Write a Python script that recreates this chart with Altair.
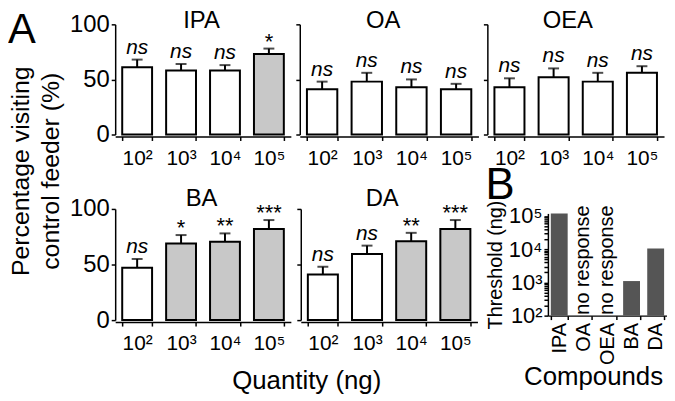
import altair as alt
import pandas as pd

FONT = "Liberation Sans"

# ---------------- data ----------------
quantities = ["10²", "10³", "10⁴", "10⁵"]

ipa_mean = [61, 58, 58, 73]
ipa_sem = [7, 6, 5, 5]
ipa_sig = ["ns", "ns", "ns", "*"]

oa_mean = [41, 48, 43, 41]
oa_sem = [7, 8, 7, 5]
oa_sig = ["ns", "ns", "ns", "ns"]

oea_mean = [43, 52, 48, 56]
oea_sem = [8, 8, 8, 6]
oea_sig = ["ns", "ns", "ns", "ns"]

ba_mean = [47, 69, 70.5, 82]
ba_sem = [8, 7.5, 7.5, 8]
ba_sig = ["ns", "*", "**", "***"]

da_mean = [41, 59.5, 71, 82]
da_sem = [7, 7.5, 7.5, 8]
da_sig = ["ns", "ns", "**", "***"]

compounds = ["IPA", "OA", "OEA", "BA", "DA"]
threshold = [120000, None, None, 1100, 10500]
no_response = ["", "no response", "no response", "", ""]

y_title = "Percentage visiting\ncontrol feeder (%)"
x_title = "Quantity (ng)"
b_title = "Compounds"
b_ytitle = "Threshold (ng)"

# ---------------- helpers ----------------
def one(text):
    return pd.DataFrame({"t": [text]})


def panel(name, mean, sem, sig, w, h, ylabels, tx, ty, extra=None):
    df = pd.DataFrame({
        "q": quantities,
        "mean": mean,
        "top": [m + s for m, s in zip(mean, sem)],
        "sig": sig,
    })
    xenc = alt.X(
        "q:N", sort=quantities,
        scale=alt.Scale(domain=quantities, paddingInner=0.32, paddingOuter=0.16),
        axis=alt.Axis(title=None, labelAngle=0, labelFontSize=21, labelPadding=7,
                      tickSize=4, offset=2, tickBand="extent"),
    )

    def yq(field, axis=False):
        if axis:
            return alt.Y(field + ":Q", scale=alt.Scale(domain=[0, 100], nice=False),
                         axis=alt.Axis(title=None, values=[0, 50, 100], labels=ylabels,
                                       labelFontSize=24, labelPadding=2, tickSize=4))
        return alt.Y(field + ":Q", scale=alt.Scale(domain=[0, 100], nice=False))

    base = alt.Chart(df)
    bars = base.mark_bar(stroke="black", strokeWidth=2).encode(
        x=xenc, y=yq("mean", True),
        fill=alt.condition(alt.datum.sig == "ns", alt.value("white"), alt.value("#c8c8c8")),
    )
    err = base.mark_rule(color="black", strokeWidth=2).encode(
        x=xenc, y=yq("mean"), y2="top:Q")
    cap = base.mark_tick(color="black", size=11, thickness=2, orient="horizontal").encode(
        x=xenc, y=yq("top"))
    ns = base.transform_filter(alt.datum.sig == "ns").mark_text(
        font=FONT, fontSize=21, fontStyle="italic", color="black", dy=-6,
        baseline="alphabetic").encode(x=xenc, y=yq("top"), text="sig:N")
    stars = base.transform_filter(alt.datum.sig != "ns").mark_text(
        font=FONT, fontSize=22, color="black", dy=0,
        baseline="alphabetic").encode(x=xenc, y=yq("top"), text="sig:N")
    title = alt.Chart(one(name)).mark_text(
        font=FONT, fontSize=24, color="black", baseline="alphabetic", align="center"
    ).encode(x=alt.value(tx), y=alt.value(ty), text="t:N")
    layers = [bars, err, cap, ns, stars, title]
    if extra:
        layers += extra
    return alt.layer(*layers).properties(width=w, height=h)


# decorations of panel A
letter_a = alt.Chart(one("A")).mark_text(
    font=FONT, fontSize=42, color="black", align="left", baseline="alphabetic"
).encode(x=alt.value(-108), y=alt.value(19), text="t:N")
ytitle = alt.Chart(one(y_title)).mark_text(
    font=FONT, fontSize=25, color="black", angle=270, align="center",
    baseline="middle", lineBreak="\n", lineHeight=30
).encode(x=alt.value(-95), y=alt.value(148), text="t:N")
xtitle = alt.Chart(one(x_title)).mark_text(
    font=FONT, fontSize=26, color="black", align="center", baseline="alphabetic"
).encode(x=alt.value(193), y=alt.value(181), text="t:N")

ipa = panel("IPA", ipa_mean, ipa_sem, ipa_sig, 177, 111, True, 87, 4, [letter_a, ytitle])
oa = panel("OA", oa_mean, oa_sem, oa_sig, 180, 111, False, 84, 4)
oea = panel("OEA", oea_mean, oea_sem, oea_sig, 178, 111, False, 81, 4)
ba = panel("BA", ba_mean, ba_sem, ba_sig, 177, 112, True, 87, -3, [xtitle])
da = panel("DA", da_mean, da_sem, da_sig, 178, 112, False, 82, -3)

# ---------------- panel B ----------------
B_W, B_H = 120, 103
bdf = pd.DataFrame({"c": compounds, "thr": threshold}).dropna()
ndf = pd.DataFrame({"c": compounds, "t": no_response})
ndf = ndf[ndf["t"] != ""]

tick_vals = [m * 10 ** e for e in range(2, 5) for m in range(1, 10)] + [100000]
label_expr = ("datum.value == 100 ? '10²' : datum.value == 1000 ? '10³' : "
              "datum.value == 10000 ? '10⁴' : datum.value == 100000 ? '10⁵' : ''")

xb = alt.X("c:N", sort=compounds,
           scale=alt.Scale(domain=compounds, paddingInner=0.3, paddingOuter=0.12),
           axis=alt.Axis(title=None, labelAngle=270, labelFontSize=20, labelPadding=3,
                         tickSize=4, tickBand="extent"))
yb = alt.Y("thr:Q",
           scale=alt.Scale(type="log", domain=[100, 120000], nice=False),
           axis=alt.Axis(title=b_ytitle, titleFontSize=20, titleFontWeight="normal",
                         titlePadding=3, titleColor="black", values=tick_vals,
                         labelExpr=label_expr, labelFontSize=22, labelPadding=2,
                         tickSize=4, labelOverlap=False))

bbars = alt.Chart(bdf).mark_bar(color="#555555").encode(
    x=xb, y=yb, y2=alt.Y2(datum=100))
bnr = alt.Chart(ndf).mark_text(
    font=FONT, fontSize=20, color="black", angle=270, align="left", baseline="middle"
).encode(x=xb, y=alt.value(B_H - 1), text="t:N")
bletter = alt.Chart(one("B")).mark_text(
    font=FONT, fontSize=44, color="black", align="left", baseline="alphabetic"
).encode(x=alt.value(-63), y=alt.value(-15), text="t:N")
bxtitle = alt.Chart(one(b_title)).mark_text(
    font=FONT, fontSize=26, color="black", align="center", baseline="alphabetic"
).encode(x=alt.value(46), y=alt.value(173), text="t:N")

pb = alt.layer(bbars, bnr, bletter, bxtitle).properties(width=B_W, height=B_H)

spacer = alt.Chart(one("")).mark_point(opacity=0).encode(
    x=alt.value(0), y=alt.value(0)).properties(width=51, height=10)

row1 = alt.hconcat(ipa, oa, oea, spacing=9, bounds="flush")
row2 = alt.hconcat(ba, da, spacer, pb, spacing=10, bounds="flush", center=True)

chart = alt.vconcat(row1, row2, spacing=186, bounds="flush").properties(
    padding=0
).configure_view(stroke=None).configure_axis(
    domainColor="black", tickColor="black", labelColor="black", grid=False,
    labelFont=FONT, titleFont=FONT, domainWidth=1.5, tickWidth=1.5,
)

chart.save("out.html", embed_options={"renderer": "svg", "actions": False})
